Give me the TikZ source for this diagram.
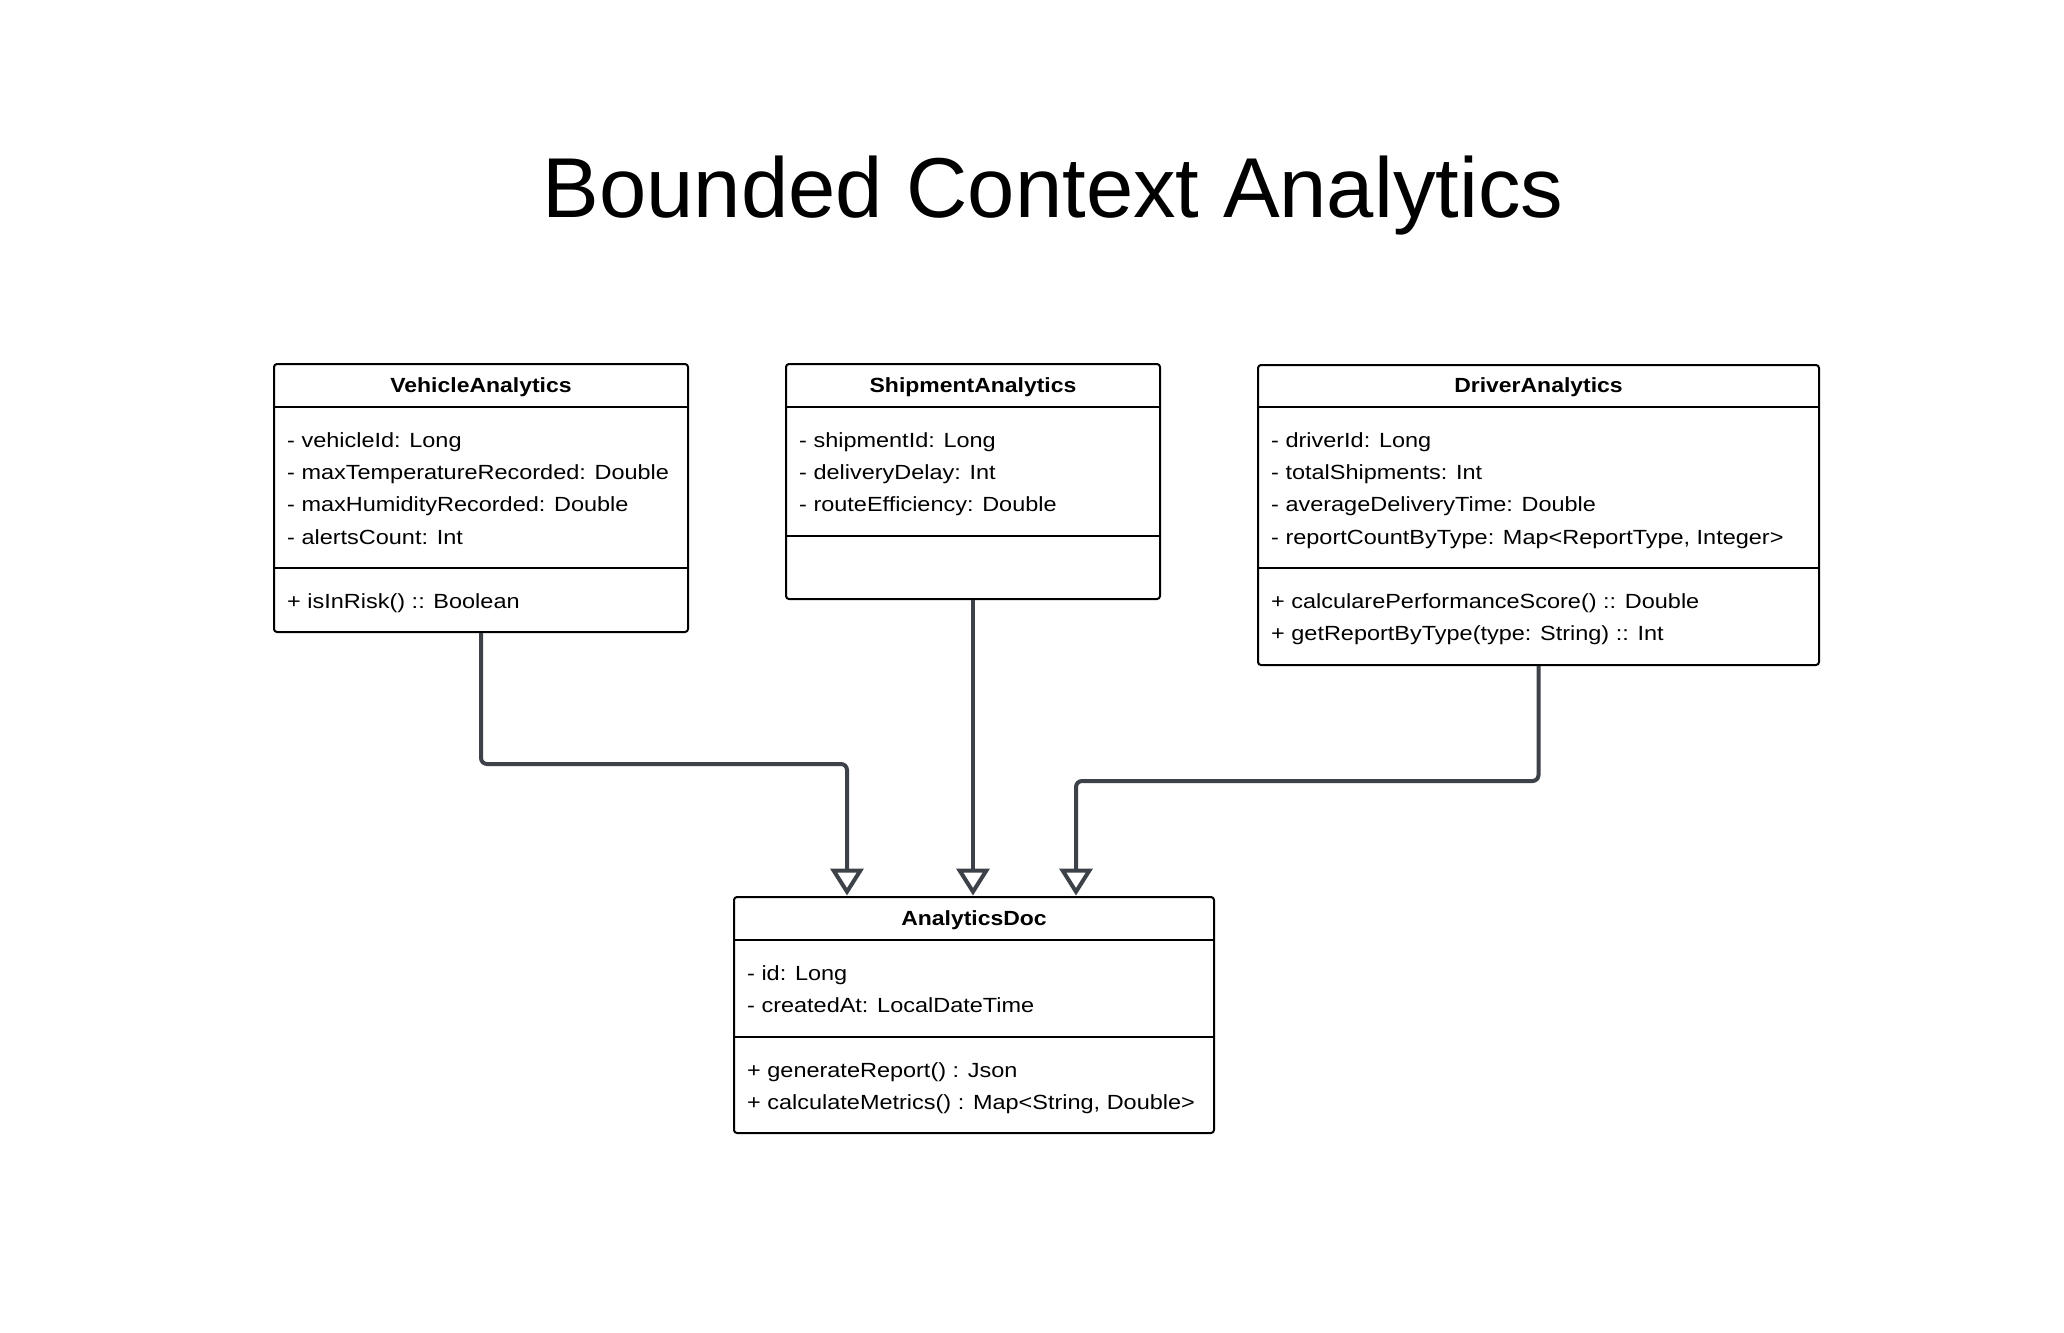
\documentclass[tikz,border=0pt]{standalone}
\usepackage{fontspec}
\setmainfont{Liberation Sans}
\newfontfamily\bodyf[FakeStretch=1.145]{Liberation Sans}
\newfontfamily\headf[FakeStretch=1.12]{Liberation Sans}
\usetikzlibrary{arrows.meta}
\definecolor{lnc}{HTML}{3D4249}
\begin{document}
\begin{tikzpicture}[x=1pt,y=-1pt,
 box/.style={draw=black,line width=2pt,rounded corners=3pt,inner sep=0pt},
 sepline/.style={draw=black,line width=2pt},
 conn/.style={draw=lnc,line width=4pt,rounded corners=6pt,-{Triangle[open,length=27pt,width=33pt]}},
 attr/.style={anchor=base west,inner sep=0pt,font=\bodyf\fontsize{20.5}{24}\selectfont},
 head/.style={anchor=base,inner sep=0pt,font=\headf\bfseries\fontsize{20.5}{24}\selectfont},
 titlef/.style={anchor=base,inner sep=0pt,font=\fontsize{85}{100}\selectfont},
]
\fill[white] (0,0) rectangle (2064,1333);
\useasboundingbox (0,0) rectangle (2064,1333);

\node[titlef] (title) at (1053,217) {Bounded Context Analytics};

% VehicleAnalytics
\node[box,minimum width=414pt,minimum height=268pt] (veh) at (481,498) {};
\draw[sepline] (veh.west |- 0,407) -- (veh.east |- 0,407);
\draw[sepline] (veh.west |- 0,568) -- (veh.east |- 0,568);
\node[head] (vehH) at (481,392.7) {VehicleAnalytics};
\node[attr] (veh1) at (287,447) {- vehicleId: Long};
\node[attr] (veh2) at (287,479.4) {- maxTemperatureRecorded: Double};
\node[attr] (veh3) at (287,511.8) {- maxHumidityRecorded: Double};
\node[attr] (veh4) at (287,544.2) {- alertsCount: Int};
\node[attr] (veh5) at (287,608.5) {+ isInRisk() :: Boolean};

% ShipmentAnalytics
\node[box,minimum width=374pt,minimum height=235pt] (ship) at (973,481.5) {};
\draw[sepline] (ship.west |- 0,407) -- (ship.east |- 0,407);
\draw[sepline] (ship.west |- 0,536) -- (ship.east |- 0,536);
\node[head] (shipH) at (973,392.7) {ShipmentAnalytics};
\node[attr] (ship1) at (799,447) {- shipmentId: Long};
\node[attr] (ship2) at (799,479.4) {- deliveryDelay: Int};
\node[attr] (ship3) at (799,511.8) {- routeEfficiency: Double};

% DriverAnalytics
\node[box,minimum width=561pt,minimum height=300pt] (drv) at (1538.5,515) {};
\draw[sepline] (drv.west |- 0,407) -- (drv.east |- 0,407);
\draw[sepline] (drv.west |- 0,568) -- (drv.east |- 0,568);
\node[head] (drvH) at (1538.5,392.7) {DriverAnalytics};
\node[attr] (drv1) at (1271,447) {- driverId: Long};
\node[attr] (drv2) at (1271,479.4) {- totalShipments: Int};
\node[attr] (drv3) at (1271,511.8) {- averageDeliveryTime: Double};
\node[attr] (drv4) at (1271,544.2) {- reportCountByType: Map<ReportType, Integer>};
\node[attr] (drv5) at (1271,608.5) {+ calcularePerformanceScore() :: Double};
\node[attr] (drv6) at (1271,640.9) {+ getReportByType(type: String) :: Int};

% AnalyticsDoc
\node[box,minimum width=480pt,minimum height=236pt] (doc) at (974,1015) {};
\draw[sepline] (doc.west |- 0,940) -- (doc.east |- 0,940);
\draw[sepline] (doc.west |- 0,1037) -- (doc.east |- 0,1037);
\node[head] (docH) at (974,925.5) {AnalyticsDoc};
\node[attr] (doc1) at (747,980) {- id: Long};
\node[attr] (doc2) at (747,1012.4) {- createdAt: LocalDateTime};
\node[attr] (doc3) at (747,1077.5) {+ generateReport() : Json};
\node[attr] (doc4) at (747,1109.9) {+ calculateMetrics() : Map<String, Double>};

% connectors
\draw[conn] (veh.south) -- ++(0,131) -| ([xshift=-127pt,yshift=0.5pt]doc.north);
\draw[conn] (ship.south) -- ([yshift=0.5pt]ship.south |- doc.north);
\draw[conn] (drv.south) -- ++(0,115) -| ([xshift=102pt,yshift=0.5pt]doc.north);
\end{tikzpicture}
\end{document}
